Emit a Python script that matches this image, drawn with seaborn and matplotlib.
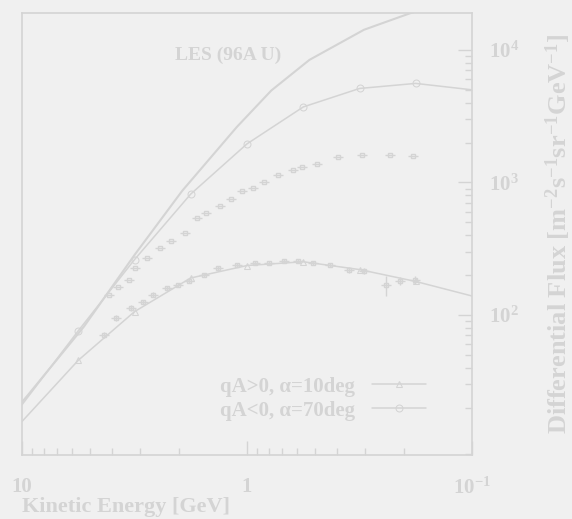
import matplotlib
matplotlib.use("Agg")
import matplotlib.pyplot as plt
import seaborn as sns
import pandas as pd

# values (kinetic energy in GeV, flux)
lis_energy = [0.10, 0.187, 0.302, 0.528, 0.78, 1.11, 1.94, 3.15, 5.31, 9.46, 10.0]
lis_flux = [25000, 19000, 14200, 8410, 4940, 2620, 865, 286, 81.5, 24.6, 22.0]

neg_energy = [0.10, 0.178, 0.316, 0.562, 1.0, 1.78, 3.16, 5.62, 10.0]
neg_flux = [5000, 5590, 5120, 3715, 1955, 816, 262, 76, 21]

pos_energy = [0.10, 0.178, 0.316, 0.562, 1.0, 1.78, 3.16, 5.62, 10.0]
pos_flux = [139, 179, 220, 252, 236, 190, 106, 45.5, 15.7]

upper_energy = [4.10, 3.74, 3.34, 3.15, 2.78, 2.44, 2.18, 1.89, 1.67, 1.52, 1.32, 1.18,
                1.05, 0.94, 0.84, 0.728, 0.625, 0.57, 0.489, 0.394, 0.308, 0.231, 0.183]
upper_flux = [142, 163, 184, 226, 269, 320, 362, 416, 540, 589, 665, 750,
              862, 908, 1010, 1140, 1240, 1310, 1380, 1560, 1610, 1610, 1585]

lower_energy = [4.32, 3.82, 3.28, 2.90, 2.62, 2.27, 2.03, 1.81, 1.55, 1.35, 1.11,
                0.921, 0.798, 0.685, 0.593, 0.509, 0.428, 0.352, 0.302, 0.241, 0.209, 0.179]
lower_flux = [70.6, 94.9, 113, 125, 142, 160, 168, 181, 200, 226, 238,
              247, 247, 256, 256, 247, 238, 219, 215, 168, 181, 184]
lower_err = [4, 5, 5, 5, 6, 6, 6, 7, 7, 8, 8,
             8, 8, 9, 9, 9, 9, 10, 10, 30, 12, 12]

x_ticks = [0.1, 1, 10]
x_tick_labels = ["$10^{-1}$", "1", "10"]
y_ticks = [100, 1000, 10000]
y_tick_labels = ["$10^{2}$", "$10^{3}$", "$10^{4}$"]

bg = "#f0f0f0"
ink = "#d4d4d4"

sns.set_theme(style="ticks")
plt.rcParams["font.family"] = ["Liberation Serif", "DejaVu Serif"]
plt.rcParams["font.weight"] = "bold"
plt.rcParams["mathtext.fontset"] = "custom"
plt.rcParams["mathtext.rm"] = "Liberation Serif:bold"
plt.rcParams["mathtext.bf"] = "Liberation Serif:bold"
plt.rcParams["mathtext.it"] = "Liberation Serif:bold:italic"
plt.rcParams["text.color"] = ink
plt.rcParams["axes.labelcolor"] = ink
plt.rcParams["xtick.color"] = ink
plt.rcParams["ytick.color"] = ink

fig = plt.figure(figsize=(5.72, 5.19), dpi=100, facecolor=bg)
ax = fig.add_axes([22 / 572, 64 / 519, 450 / 572, 442 / 519])
ax.set_facecolor(bg)
ax.set_xscale("log")
ax.set_yscale("log")

lis = pd.DataFrame({"E": lis_energy, "F": lis_flux})
neg = pd.DataFrame({"E": neg_energy, "F": neg_flux})
pos = pd.DataFrame({"E": pos_energy, "F": pos_flux})

sns.lineplot(data=lis, x="E", y="F", ax=ax, color=ink, lw=1.5)
sns.lineplot(data=pos, x="E", y="F", ax=ax, color=ink, lw=1.1, marker="^",
             markersize=5, markerfacecolor="none", markeredgecolor=ink,
             markevery=slice(1, -1), label="qA>0, α=10deg")
sns.lineplot(data=neg, x="E", y="F", ax=ax, color=ink, lw=1.1, marker="o",
             markersize=5, markerfacecolor="none", markeredgecolor=ink,
             markevery=slice(1, -1), label="qA<0, α=70deg")

# data points with small bin bars
ax.errorbar(upper_energy, upper_flux, xerr=[[e * 0.05 for e in upper_energy], [e * 0.05 for e in upper_energy]],
            fmt="s", ms=2.5, mfc="none", mec=ink, ecolor=ink, elinewidth=1, capsize=0)
ax.errorbar(lower_energy, lower_flux, yerr=lower_err,
            xerr=[[e * 0.05 for e in lower_energy], [e * 0.05 for e in lower_energy]],
            fmt="s", ms=2.5, mfc="none", mec=ink, ecolor=ink, elinewidth=1, capsize=0)

ax.set_xlim(10, 0.1)
ax.set_ylim(8.77, 19000)
ax.set_xticks(x_ticks, x_tick_labels)
ax.set_yticks(y_ticks, y_tick_labels)
ax.yaxis.tick_right()
ax.yaxis.set_label_position("right")
ax.tick_params(which="major", direction="in", length=10, width=1, labelsize=15, pad=16)
ax.tick_params(which="minor", direction="in", length=5, width=1)
ax.tick_params(axis="y", which="both", left=False, right=True, pad=12)
for s in ax.spines.values():
    s.set_color(ink)
    s.set_linewidth(1.2)

ax.set_xlabel("Kinetic Energy [GeV]", loc="left", fontsize=16, fontweight="bold", labelpad=-1)
ax.set_ylabel("Differential Flux [m$^{-2}$s$^{-1}$sr$^{-1}$GeV$^{-1}$]", fontsize=19,
              fontweight="bold", labelpad=18)

ax.text(0.458, 0.905, "LES (96A U)", transform=ax.transAxes, ha="center", va="center",
        fontsize=14, fontweight="bold", color=ink)

leg = ax.legend(loc="lower right", bbox_to_anchor=(0.94, 0.035), frameon=False,
                markerfirst=False, fontsize=15, handlelength=2.6, labelspacing=0.2)
for t in leg.get_texts():
    t.set_color(ink)

fig.savefig("out.png", dpi=100, facecolor=bg)
